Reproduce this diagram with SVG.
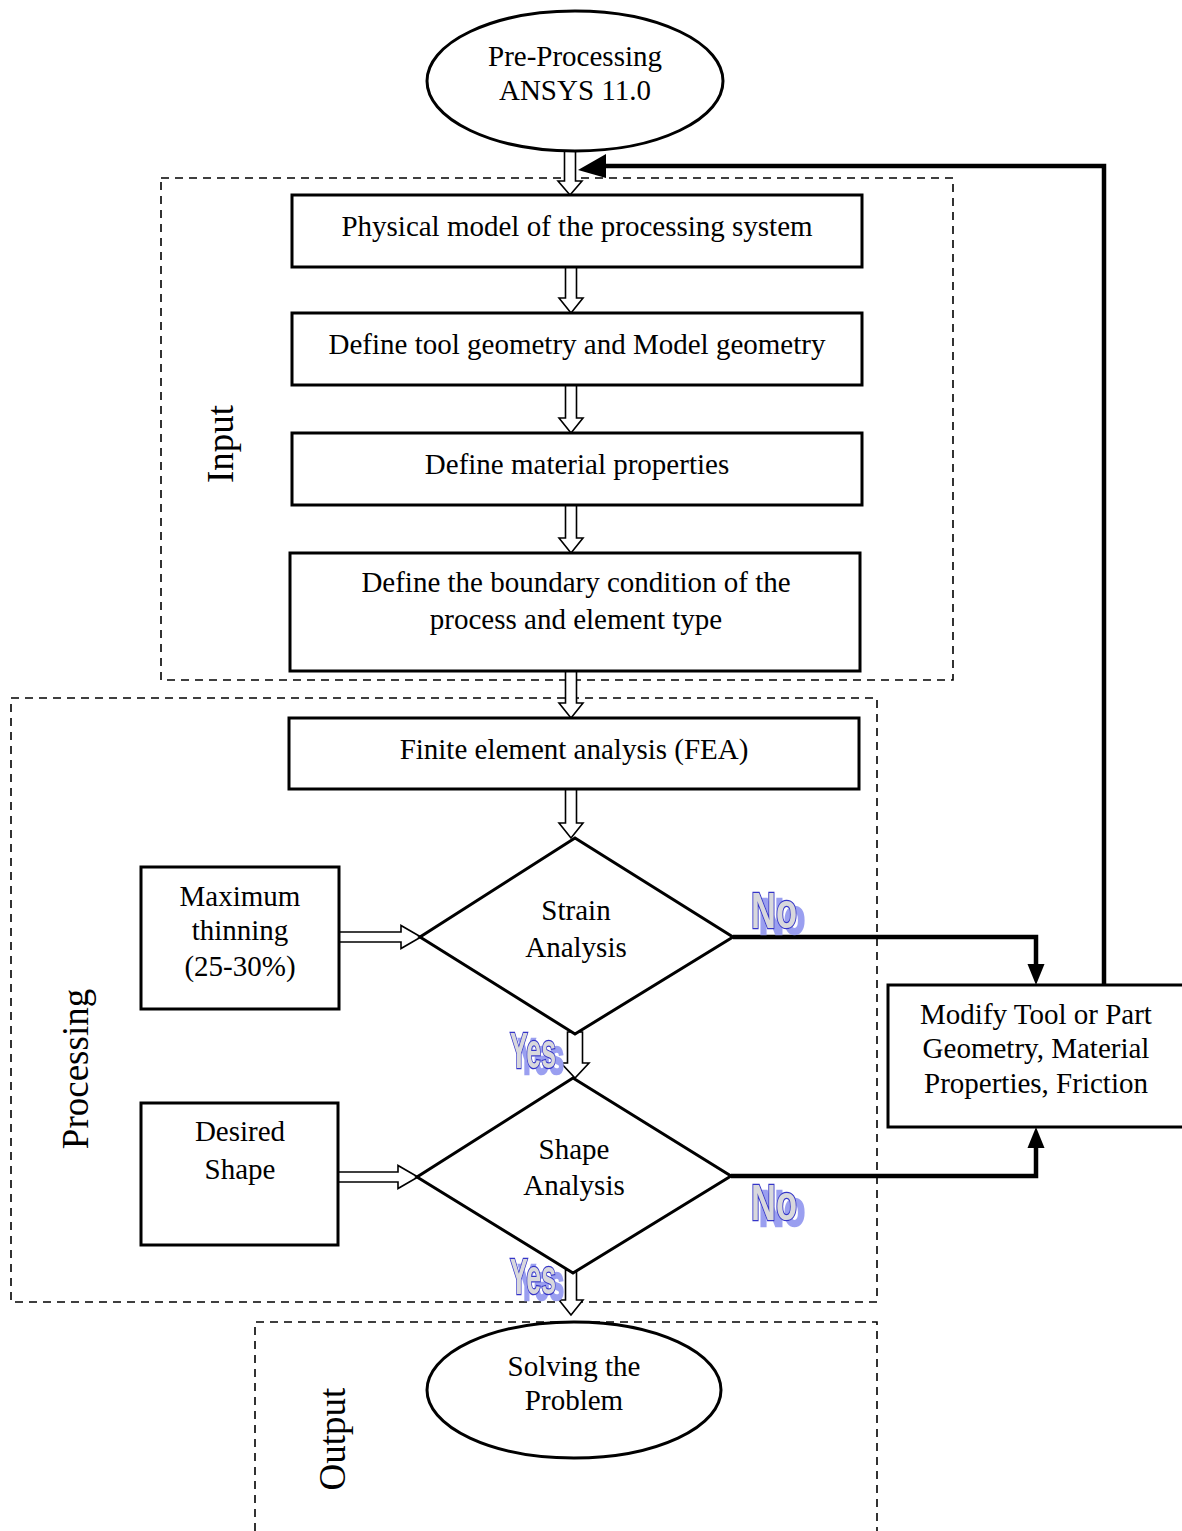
<svg xmlns="http://www.w3.org/2000/svg" width="1182" height="1531" viewBox="0 0 1182 1531">
<style>
.box{fill:#fff;stroke:#000;stroke-width:3}
.t{font-family:"Liberation Serif","Times New Roman",serif;font-size:29px;fill:#000;text-anchor:middle}
.lbl{font-family:"Liberation Serif","Times New Roman",serif;font-size:37px;fill:#000;text-anchor:middle}
.dash{fill:none;stroke:#000;stroke-width:1.6;stroke-dasharray:8,6}
.ha{fill:#fff;stroke:#000;stroke-width:1.6;stroke-linejoin:miter}
.bl{fill:none;stroke:#000;stroke-width:4.5}
.head{fill:#000}
.wa{font-family:"Liberation Sans",Arial,sans-serif;font-weight:bold;font-size:50px;fill:#d8d8dc;stroke:#3535c8;stroke-width:2.5;paint-order:stroke fill;filter:url(#sh)}
</style>
<defs>
<filter id="sh" x="-20%" y="-20%" width="160%" height="160%">
<feDropShadow dx="8" dy="6" stdDeviation="0.6" flood-color="#9a9ff0" flood-opacity="1"/>
</filter>
</defs>

<!-- dashed regions -->
<g id="regions">
<rect class="dash" x="161" y="178" width="792" height="502"/>
<path class="dash" d="M877,1296 V698 H11 V1302 H877"/>
<path class="dash" d="M255,1531 V1322 H877 V1531"/>
<text class="lbl" transform="translate(233,444) rotate(-90)">Input</text>
<text class="lbl" transform="translate(88,1069) rotate(-90)">Processing</text>
<text class="lbl" transform="translate(345,1439) rotate(-90)">Output</text>
</g>

<g id="connectors">
<!-- hollow vertical arrows -->
<path class="ha" d="M564.5,148 H575.5 V181 H582 L570,195 L558,181 H564.5 Z"/>
<path class="ha" d="M565.5,267 H576.5 V298 H583 L571,313 L559,298 H565.5 Z"/>
<path class="ha" d="M565.5,385 H576.5 V418 H583 L571,433 L559,418 H565.5 Z"/>
<path class="ha" d="M565.5,505 H576.5 V538 H583 L571,553 L559,538 H565.5 Z"/>
<path class="ha" d="M565.5,671 H576.5 V703 H583 L571,718 L559,703 H565.5 Z"/>
<path class="ha" d="M565.5,789 H576.5 V823 H583 L571,838 L559,823 H565.5 Z"/>
<path class="ha" d="M567.5,1032 H582.5 V1063 H589 L575,1078 L561,1063 H567.5 Z"/>
<path class="ha" d="M565.5,1270 H576.5 V1300 H583 L571,1315 L559,1300 H565.5 Z"/>
<!-- hollow horizontal arrows -->
<path class="ha" d="M339,932 V942 H401 V948.5 L421,937 L401,925.5 V932 Z"/>
<path class="ha" d="M338,1172 V1182 H398 V1188.5 L418,1177 L398,1165.5 V1172 Z"/>
<!-- black arrows -->
<path class="bl" d="M733,937 H1036 V966"/>
<path class="head" d="M1027.5,964 H1044.5 L1036,985 Z"/>
<path class="bl" d="M731,1176 H1036 V1146"/>
<path class="head" d="M1027.5,1148 H1044.5 L1036,1127 Z"/>
<path class="bl" d="M1104,985 V166 H600"/>
<path class="head" d="M606,154 L606,178 L578,170 Z"/>
</g>

<g id="n-start">
<ellipse class="box" cx="575" cy="81" rx="148" ry="70"/>
<text class="t" x="575" y="66">Pre-Processing</text>
<text class="t" x="575" y="100">ANSYS 11.0</text>
</g>
<g id="n-physical">
<rect class="box" x="292" y="195" width="570" height="72"/>
<text class="t" x="577" y="236">Physical model of the processing system</text>
</g>
<g id="n-geometry">
<rect class="box" x="292" y="313" width="570" height="72"/>
<text class="t" x="577" y="354">Define tool geometry and Model geometry</text>
</g>
<g id="n-material">
<rect class="box" x="292" y="433" width="570" height="72"/>
<text class="t" x="577" y="474">Define material properties</text>
</g>
<g id="n-boundary">
<rect class="box" x="290" y="553" width="570" height="118"/>
<text class="t" x="576" y="592">Define the boundary condition of the</text>
<text class="t" x="576" y="629">process and element type</text>
</g>
<g id="n-fea">
<rect class="box" x="289" y="718" width="570" height="71"/>
<text class="t" x="574" y="759">Finite element analysis (FEA)</text>
</g>
<g id="n-strain">
<path class="box" d="M575,838 L733,937 L575,1034 L420,937 Z"/>
<text class="t" x="576" y="920">Strain</text>
<text class="t" x="576" y="957">Analysis</text>
</g>
<g id="n-shape">
<path class="box" d="M573,1078 L731,1176 L573,1273 L417,1177 Z"/>
<text class="t" x="574" y="1159">Shape</text>
<text class="t" x="574" y="1195">Analysis</text>
</g>
<g id="n-thinning">
<rect class="box" x="141" y="867" width="198" height="142"/>
<text class="t" x="240" y="906">Maximum</text>
<text class="t" x="240" y="940">thinning</text>
<text class="t" x="240" y="976">(25-30%)</text>
</g>
<g id="n-desired">
<rect class="box" x="141" y="1103" width="197" height="142"/>
<text class="t" x="240" y="1141">Desired</text>
<text class="t" x="240" y="1179">Shape</text>
</g>
<g id="n-modify">
<rect class="box" x="888" y="985" width="296" height="142"/>
<text class="t" x="1036" y="1024">Modify Tool or Part</text>
<text class="t" x="1036" y="1058">Geometry, Material</text>
<text class="t" x="1036" y="1093">Properties, Friction</text>
</g>
<g id="n-end">
<ellipse class="box" cx="574" cy="1390" rx="147" ry="68"/>
<text class="t" x="574" y="1376">Solving the</text>
<text class="t" x="574" y="1410">Problem</text>
</g>

<g id="labels">
<text class="wa" x="751" y="928" textLength="46" lengthAdjust="spacingAndGlyphs">No</text>
<text class="wa" x="751" y="1220" textLength="46" lengthAdjust="spacingAndGlyphs">No</text>
<text class="wa" x="510" y="1068" textLength="46" lengthAdjust="spacingAndGlyphs">Yes</text>
<text class="wa" x="510" y="1294" textLength="46" lengthAdjust="spacingAndGlyphs">Yes</text>
</g>
</svg>
